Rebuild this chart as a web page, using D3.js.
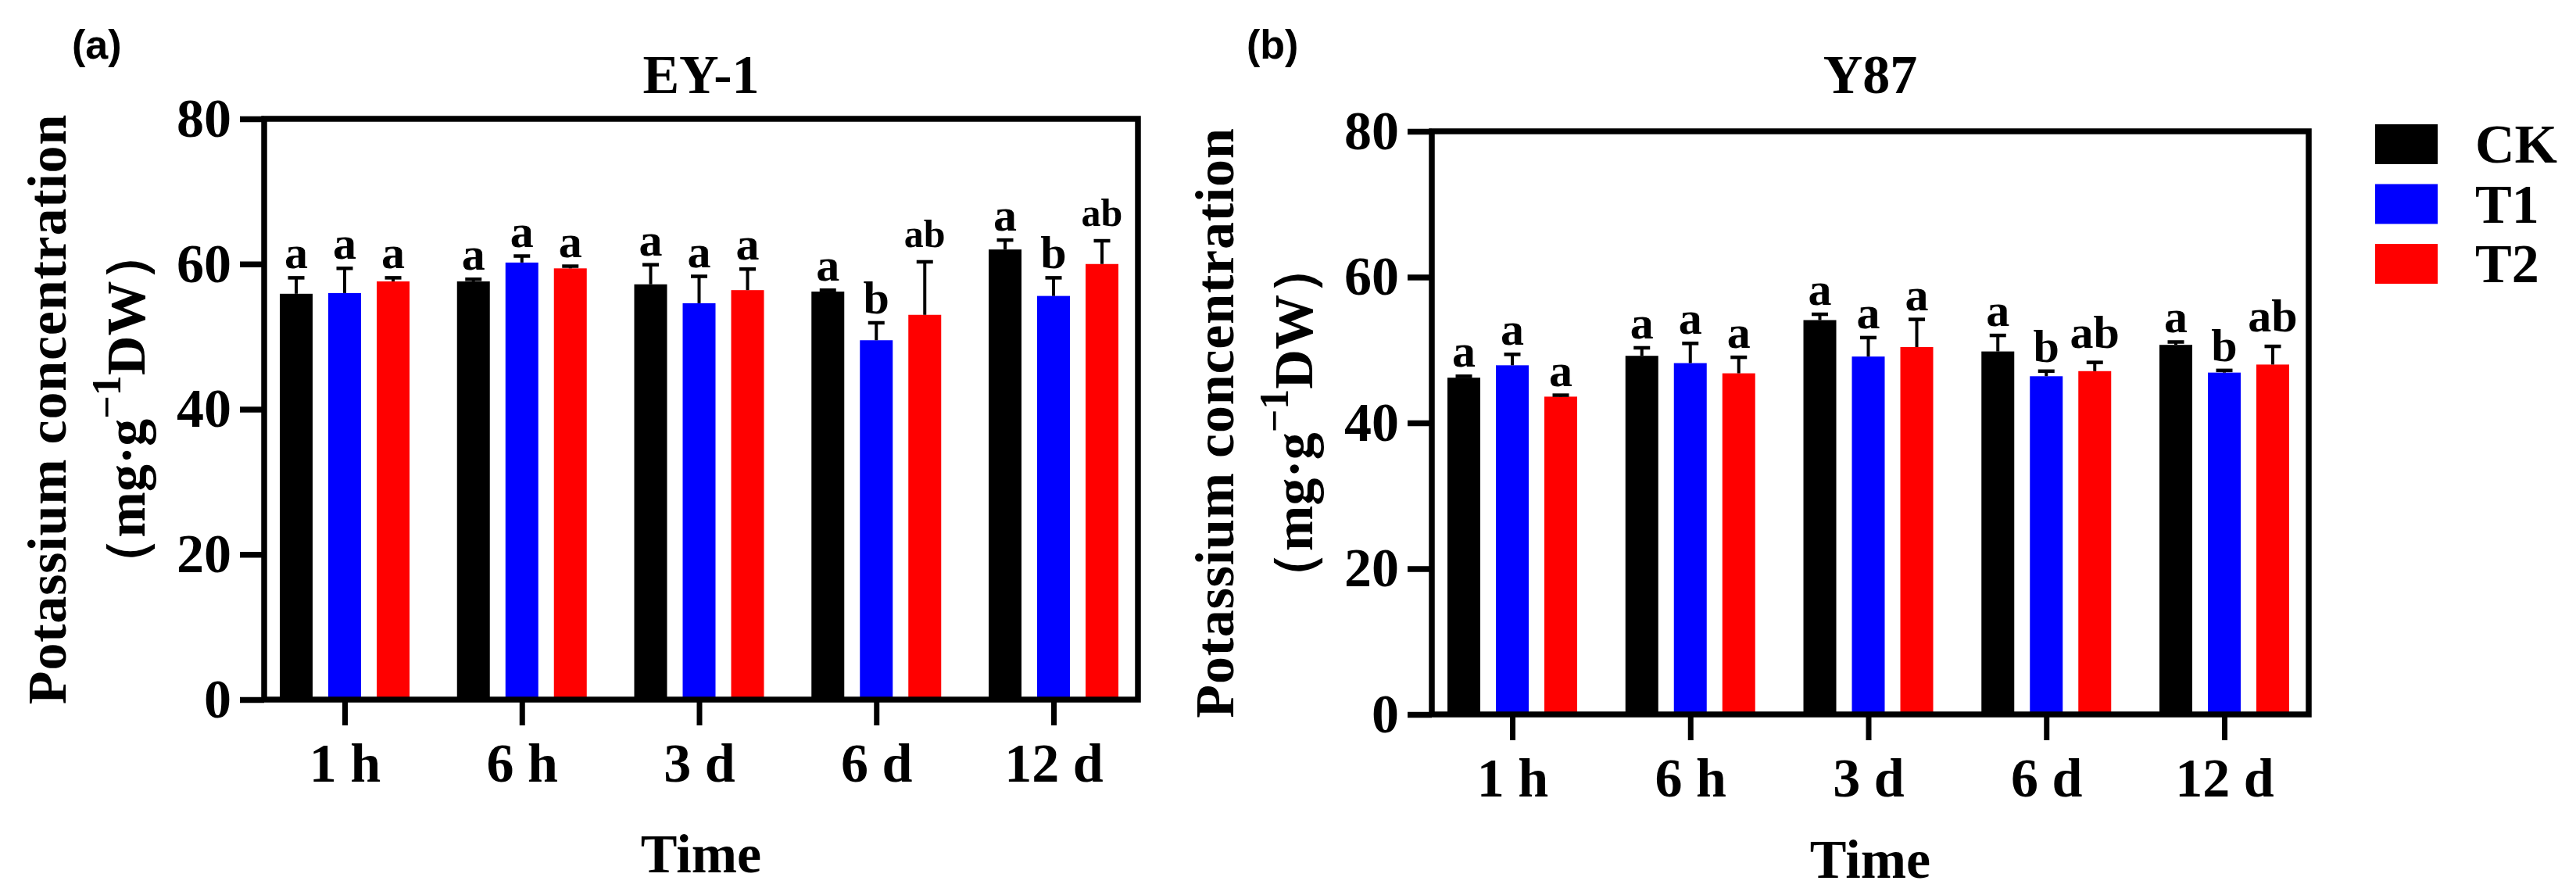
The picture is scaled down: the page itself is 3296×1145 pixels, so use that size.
<!DOCTYPE html>
<html>
<head>
<meta charset="utf-8">
<style>
  body { margin: 0; background: #fff; }
  text { font-family: "Liberation Serif", "Times New Roman", serif; font-weight: bold; fill: #000; }
</style>
</head>
<body>
<div id="chart"></div>
<script src="https://d3js.org/d3.v7.min.js"></script>
<script>
  // categories and series
  var times = ["1 h", "6 h", "3 d", "6 d", "12 d"];
  var groups = ["CK", "T1", "T2"];
  var colors = ["#000000", "#0000ff", "#ff0000"];
  var yTicks = [0, 20, 40, 60, 80];

  // (a) EY-1 : means, upper SD, letters
  var ey1CK = [55.9, 57.6, 57.2, 56.2, 62.0];
  var ey1T1 = [56.0, 60.2, 54.6, 49.5, 55.6];
  var ey1T2 = [57.6, 59.4, 56.4, 53.0, 60.0];
  var ey1CKErr = [2.2, 0.3, 2.7, 0.2, 1.3];
  var ey1T1Err = [3.4, 0.9, 3.7, 2.4, 2.5];
  var ey1T2Err = [0.5, 0.3, 2.9, 7.3, 3.2];
  var ey1CKSig = ["a", "a", "a", "a", "a"];
  var ey1T1Sig = ["a", "a", "a", "b", "b"];
  var ey1T2Sig = ["a", "a", "a", "ab", "ab"];

  // (b) Y87
  var y87CK = [46.2, 49.2, 54.1, 49.8, 50.7];
  var y87T1 = [47.9, 48.2, 49.1, 46.4, 46.9];
  var y87T2 = [43.6, 46.8, 50.4, 47.1, 48.0];
  var y87CKErr = [0.2, 1.1, 0.8, 2.2, 0.4];
  var y87T1Err = [1.5, 2.7, 2.6, 0.7, 0.3];
  var y87T2Err = [0.2, 2.2, 3.8, 1.2, 2.5];
  var y87CKSig = ["a", "a", "a", "a", "a"];
  var y87T1Sig = ["a", "a", "a", "b", "b"];
  var y87T2Sig = ["a", "a", "a", "ab", "ab"];

  var svg = d3.select("#chart")
    .append("svg")
    .attr("width", 3296)
    .attr("height", 1145);

  var lineW = 7.5;

  function drawPanel(p) {
    var g = svg.append("g");

    var x = d3.scalePoint()
      .domain(times)
      .range([p.left + 103, p.right - 108]);

    // bars inside a group: 42 wide, 20 apart
    var xIn = d3.scaleBand()
      .domain(groups)
      .range([-93, 93])
      .paddingInner(20 / 62)
      .paddingOuter(10 / 62);

    var y = d3.scaleLinear()
      .domain([0, 80])
      .range([p.bottom, p.top]);

    var rows = [];
    groups.forEach(function(s, si) {
      times.forEach(function(t, ti) {
        rows.push({
          time: t,
          group: s,
          color: colors[si],
          mean: p.means[si][ti],
          err: p.errs[si][ti],
          sig: p.sigs[si][ti]
        });
      });
    });

    function cx(d) {
      return x(d.time) + xIn(d.group) + xIn.bandwidth() / 2;
    }

    g.selectAll(".bar")
      .data(rows)
      .enter()
      .append("rect")
      .attr("class", "bar")
      .attr("x", function(d) { return x(d.time) + xIn(d.group); })
      .attr("width", xIn.bandwidth())
      .attr("y", function(d) { return y(d.mean); })
      .attr("height", function(d) { return y(0) - y(d.mean); })
      .style("fill", function(d) { return d.color; });

    // upper error bars
    g.selectAll(".stem")
      .data(rows)
      .enter()
      .append("line")
      .attr("x1", cx)
      .attr("x2", cx)
      .attr("y1", function(d) { return y(d.mean); })
      .attr("y2", function(d) { return y(d.mean + d.err); })
      .style("stroke", "#000")
      .style("stroke-width", 4);

    g.selectAll(".cap")
      .data(rows)
      .enter()
      .append("line")
      .attr("x1", function(d) { return cx(d) - xIn.bandwidth() / 4; })
      .attr("x2", function(d) { return cx(d) + xIn.bandwidth() / 4; })
      .attr("y1", function(d) { return y(d.mean + d.err); })
      .attr("y2", function(d) { return y(d.mean + d.err); })
      .style("stroke", "#000")
      .style("stroke-width", 4.5);

    // significance letters
    g.selectAll(".sig")
      .data(rows)
      .enter()
      .append("text")
      .attr("x", cx)
      .attr("y", function(d) {
        return y(d.mean + d.err) - 2 - (d.sig.length > 1 ? 17 : 10);
      })
      .attr("text-anchor", "middle")
      .style("font-size", function(d) {
        return (d.sig.length > 1 ? p.abSize : 60) + "px";
      })
      .text(function(d) { return d.sig; });

    // frame
    g.append("rect")
      .attr("x", p.left)
      .attr("y", p.top)
      .attr("width", p.right - p.left)
      .attr("height", p.bottom - p.top)
      .style("fill", "none")
      .style("stroke", "#000")
      .style("stroke-width", lineW);

    // y axis
    var yAx = g.append("g")
      .attr("transform", "translate(" + p.left + ",0)")
      .call(d3.axisLeft(y).tickValues(yTicks).tickSize(31).tickPadding(11));
    yAx.select(".domain").remove();
    yAx.selectAll("line").style("stroke-width", lineW);
    yAx.selectAll("text")
      .attr("font-family", null)
      .attr("font-size", null)
      .style("font-size", "70px");

    // x axis
    var xAx = g.append("g")
      .attr("transform", "translate(0," + p.bottom + ")")
      .call(d3.axisBottom(x).tickSize(33));
    xAx.select(".domain").remove();
    xAx.selectAll("line").style("stroke-width", 7);
    xAx.selectAll("text")
      .attr("font-family", null)
      .attr("font-size", null)
      .attr("y", 105)
      .attr("dy", null)
      .style("font-size", "70px");

    // titles
    g.append("text")
      .attr("x", (p.left + p.right) / 2)
      .attr("y", 119)
      .attr("text-anchor", "middle")
      .style("font-size", "70px")
      .text(p.title);

    g.append("text")
      .attr("x", p.tagX)
      .attr("y", 75)
      .style("font-family", "'Liberation Sans', Arial, sans-serif")
      .style("font-size", "52px")
      .text(p.tag);

    g.append("text")
      .attr("x", (p.left + p.right) / 2)
      .attr("y", p.timeY)
      .attr("text-anchor", "middle")
      .style("font-size", "70px")
      .text("Time");

    // y label, two lines
    var midY = (p.top + p.bottom) / 2;
    g.append("text")
      .attr("transform", "translate(" + (p.left - 254) + "," + midY + ") rotate(-90)")
      .attr("text-anchor", "middle")
      .style("font-size", "70px")
      .style("letter-spacing", "0.8px")
      .text("Potassium concentration");

    var l2 = g.append("text")
      .attr("transform", "translate(" + (p.left - 153) + "," + midY + ") rotate(-90)")
      .attr("text-anchor", "middle")
      .style("font-size", "70px");
    l2.append("tspan").text("（mg·g");
    l2.append("tspan").attr("dy", -31).style("font-size", "52px").text("−1");
    l2.append("tspan").attr("dy", 31).text("DW）");
  }

  drawPanel({
    left: 338, right: 1456, top: 152, bottom: 895,
    title: "EY-1", tag: "(a)", tagX: 92, timeY: 1116, abSize: 50,
    means: [ey1CK, ey1T1, ey1T2],
    errs: [ey1CKErr, ey1T1Err, ey1T2Err],
    sigs: [ey1CKSig, ey1T1Sig, ey1T2Sig]
  });

  drawPanel({
    left: 1832, right: 2954, top: 168, bottom: 914,
    title: "Y87", tag: "(b)", tagX: 1595, timeY: 1123, abSize: 60,
    means: [y87CK, y87T1, y87T2],
    errs: [y87CKErr, y87T1Err, y87T2Err],
    sigs: [y87CKSig, y87T1Sig, y87T2Sig]
  });

  // legend
  var legend = svg.append("g")
    .selectAll(".legend")
    .data(groups)
    .enter()
    .append("g")
    .attr("transform", function(d, i) {
      return "translate(3039," + (159 + i * 76.5) + ")";
    });

  legend.append("rect")
    .attr("width", 80)
    .attr("height", 51)
    .style("fill", function(d, i) { return colors[i]; });

  legend.append("text")
    .attr("x", 128)
    .attr("y", 49)
    .style("font-size", "70px")
    .text(function(d) { return d; });
</script>
</body>
</html>
